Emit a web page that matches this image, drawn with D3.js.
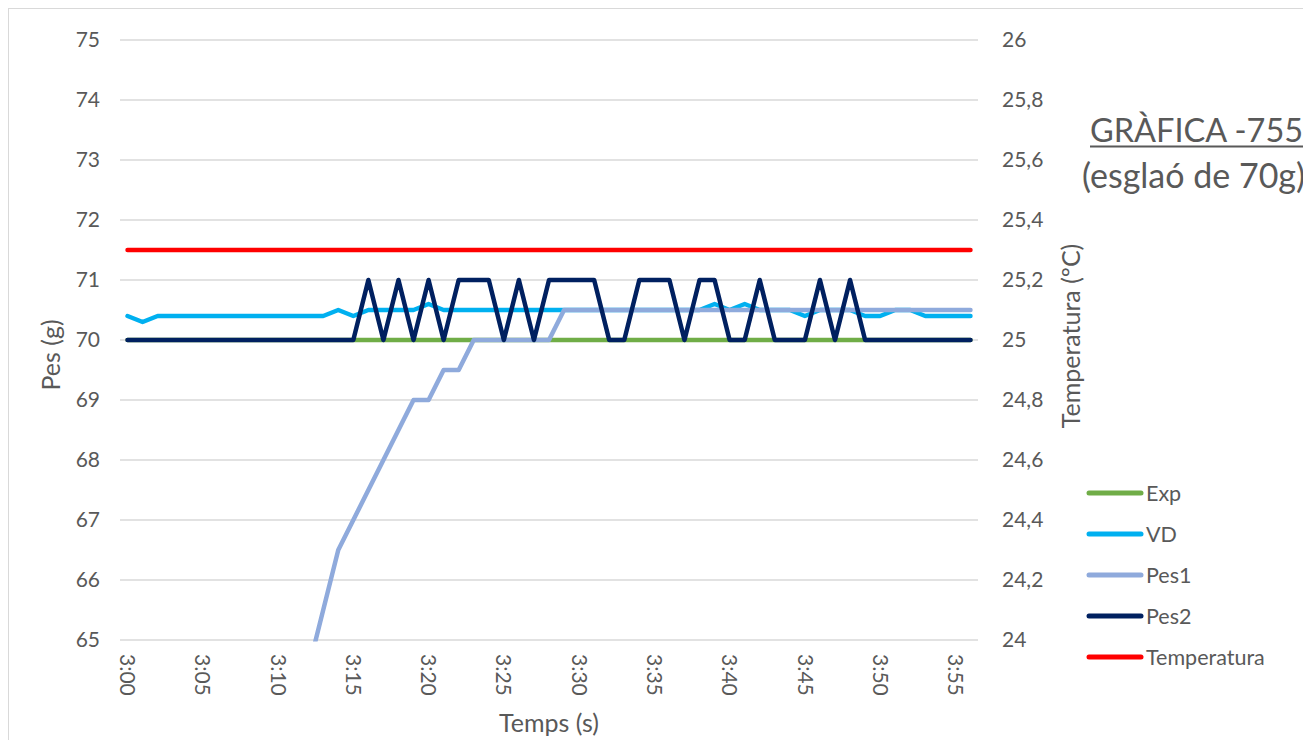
<!DOCTYPE html>
<html>
<head>
<meta charset="utf-8">
<script src="https://cdn.jsdelivr.net/npm/d3@7"></script>
<style>
  body { margin: 0; background: white; }
  text { font-family: Lato, "Open Sans", sans-serif; fill: #595959; }
</style>
</head>
<body>
<svg id="vis"></svg>
<script>
// data (one point per second, 3:00 .. 3:56)
const TEMPS = ['3:00','3:01','3:02','3:03','3:04','3:05','3:06','3:07','3:08','3:09',
  '3:10','3:11','3:12','3:13','3:14','3:15','3:16','3:17','3:18','3:19',
  '3:20','3:21','3:22','3:23','3:24','3:25','3:26','3:27','3:28','3:29',
  '3:30','3:31','3:32','3:33','3:34','3:35','3:36','3:37','3:38','3:39',
  '3:40','3:41','3:42','3:43','3:44','3:45','3:46','3:47','3:48','3:49',
  '3:50','3:51','3:52','3:53','3:54','3:55','3:56']
const TICK_LABELS = ['3:00','3:05','3:10','3:15','3:20','3:25','3:30','3:35','3:40','3:45','3:50','3:55']

const EXP = [70,70,70,70,70,70,70,70,70,70, 70,70,70,70,70,70,70,70,70,70,
  70,70,70,70,70,70,70,70,70,70, 70,70,70,70,70,70,70,70,70,70,
  70,70,70,70,70,70,70,70,70,70, 70,70,70,70,70,70,70]
const VD = [70.4,70.3,70.4,70.4,70.4,70.4,70.4,70.4,70.4,70.4,
  70.4,70.4,70.4,70.4,70.5,70.4,70.5,70.5,70.5,70.5,
  70.6,70.5,70.5,70.5,70.5,70.5,70.5,70.5,70.5,70.5,
  70.5,70.5,70.5,70.5,70.5,70.5,70.5,70.5,70.5,70.6,
  70.5,70.6,70.5,70.5,70.5,70.4,70.5,70.5,70.5,70.4,
  70.4,70.5,70.5,70.4,70.4,70.4,70.4]
// first values are below the 65 axis minimum and not visible
const PES1 = [null,null,null,null,null,null,null,null,null,null,
  null,null,64.5,65.5,66.5,67,67.5,68,68.5,69,
  69,69.5,69.5,70,70,70,70,70,70,70.5,
  70.5,70.5,70.5,70.5,70.5,70.5,70.5,70.5,70.5,70.5,
  70.5,70.5,70.5,70.5,70.5,70.5,70.5,70.5,70.5,70.5,
  70.5,70.5,70.5,70.5,70.5,70.5,70.5]
const PES2 = [70,70,70,70,70,70,70,70,70,70,
  70,70,70,70,70,70,71,70,71,70,
  71,70,71,71,71,70,71,70,71,71,
  71,71,70,70,71,71,71,70,71,71,
  70,70,71,70,70,70,71,70,71,70,
  70,70,70,70,70,70,70]
const TEMPERATURA = [25.3,25.3,25.3,25.3,25.3,25.3,25.3,25.3,25.3,25.3,
  25.3,25.3,25.3,25.3,25.3,25.3,25.3,25.3,25.3,25.3,
  25.3,25.3,25.3,25.3,25.3,25.3,25.3,25.3,25.3,25.3,
  25.3,25.3,25.3,25.3,25.3,25.3,25.3,25.3,25.3,25.3,
  25.3,25.3,25.3,25.3,25.3,25.3,25.3,25.3,25.3,25.3,
  25.3,25.3,25.3,25.3,25.3,25.3,25.3]

const LEFT_TICKS = [65,66,67,68,69,70,71,72,73,74,75]
const RIGHT_TICKS = [24,24.2,24.4,24.6,24.8,25,25.2,25.4,25.6,25.8,26]

// layout
const WIDTH = 1303
const HEIGHT = 740
const PLOT_LEFT = 120
const PLOT_RIGHT = 978
const PLOT_TOP = 40
const PLOT_BOTTOM = 640
const LABEL_SIZE = 21
const TITLE_SIZE = 25

var svg = d3.select('#vis')
    .attr('width', WIDTH)
    .attr('height', HEIGHT)

// chart border
svg.append('rect')
    .attr('x', 8.5)
    .attr('y', 8.5)
    .attr('width', WIDTH + 20)
    .attr('height', HEIGHT + 20)
    .attr('fill', 'white')
    .attr('stroke', '#d9d9d9')

var x = d3.scalePoint()
    .domain(TEMPS)
    .range([PLOT_LEFT, PLOT_RIGHT])
    .padding(0.5)

var yLeft = d3.scaleLinear()
    .domain([65, 75])
    .range([PLOT_BOTTOM, PLOT_TOP])

var yRight = d3.scaleLinear()
    .domain([24, 26])
    .range([PLOT_BOTTOM, PLOT_TOP])

// gridlines
svg.append('g')
    .selectAll('line')
    .data(LEFT_TICKS)
    .join('line')
        .attr('x1', PLOT_LEFT)
        .attr('x2', PLOT_RIGHT)
        .attr('y1', d => yLeft(d))
        .attr('y2', d => yLeft(d))
        .attr('stroke', '#d9d9d9')
        .attr('stroke-width', 1.5)

// left axis labels
svg.append('g')
    .selectAll('text')
    .data(LEFT_TICKS)
    .join('text')
        .attr('x', 100)
        .attr('y', d => yLeft(d))
        .attr('dy', '0.35em')
        .attr('font-size', LABEL_SIZE)
        .style('text-anchor', 'end')
        .text(d => d)

// right axis labels (comma decimals)
svg.append('g')
    .selectAll('text')
    .data(RIGHT_TICKS)
    .join('text')
        .attr('x', 1002)
        .attr('y', d => yRight(d))
        .attr('dy', '0.35em')
        .attr('font-size', LABEL_SIZE)
        .style('text-anchor', 'start')
        .text(d => String(+d.toFixed(1)).replace('.', ','))

// x axis labels, rotated
svg.append('g')
    .selectAll('text')
    .data(TICK_LABELS)
    .join('text')
        .attr('transform', d => `translate(${x(d)}, 654) rotate(90)`)
        .attr('dy', '0.35em')
        .attr('font-size', LABEL_SIZE)
        .style('text-anchor', 'start')
        .text(d => d)

// axis titles
svg.append('text')
    .attr('x', 549)
    .attr('y', 732)
    .attr('font-size', TITLE_SIZE)
    .style('text-anchor', 'middle')
    .text('Temps (s)')

svg.append('text')
    .attr('transform', 'translate(60, 355) rotate(-90)')
    .attr('font-size', TITLE_SIZE)
    .style('text-anchor', 'middle')
    .text('Pes (g)')

svg.append('text')
    .attr('transform', 'translate(1080, 336) rotate(-90)')
    .attr('font-size', TITLE_SIZE)
    .style('text-anchor', 'middle')
    .text('Temperatura (ºC)')

// clip the lines to the plot area
svg.append('clipPath')
    .attr('id', 'plot-clip')
    .append('rect')
        .attr('x', 0)
        .attr('y', 0)
        .attr('width', WIDTH)
        .attr('height', PLOT_BOTTOM + 1.5)

const SERIES = [
    { name: 'Exp', values: EXP, color: '#70ad47', axis: yLeft },
    { name: 'VD', values: VD, color: '#00b0f0', axis: yLeft },
    { name: 'Pes1', values: PES1, color: '#8faadc', axis: yLeft },
    { name: 'Pes2', values: PES2, color: '#002060', axis: yLeft },
    { name: 'Temperatura', values: TEMPERATURA, color: '#ff0000', axis: yRight }
]

var lines = svg.append('g')
    .attr('clip-path', 'url(#plot-clip)')

SERIES.forEach(function(s) {
    var line = d3.line()
        .defined(d => d != null)
        .x((d, i) => x(TEMPS[i]))
        .y(d => s.axis(d))
    lines.append('path')
        .datum(s.values)
        .attr('d', line)
        .attr('fill', 'none')
        .attr('stroke', s.color)
        .attr('stroke-width', 4.5)
        .attr('stroke-linejoin', 'round')
        .attr('stroke-linecap', 'round')
})

// legend
var legend = svg.append('g')
SERIES.forEach(function(s, i) {
    var ly = 493 + i * 41
    legend.append('line')
        .attr('x1', 1089)
        .attr('x2', 1141)
        .attr('y1', ly)
        .attr('y2', ly)
        .attr('stroke', s.color)
        .attr('stroke-width', 5)
        .attr('stroke-linecap', 'round')
    legend.append('text')
        .attr('x', 1146)
        .attr('y', ly)
        .attr('dy', '0.35em')
        .attr('font-size', LABEL_SIZE + 0.5)
        .text(s.name)
})

// title (second line runs past the right edge, as in the original)
svg.append('text')
    .attr('x', 1090)
    .attr('y', 142)
    .attr('font-size', 32.5)
    .text('GRÀFICA -755')

svg.append('line')
    .attr('x1', 1090)
    .attr('x2', WIDTH)
    .attr('y1', 146.5)
    .attr('y2', 146.5)
    .attr('stroke', '#595959')
    .attr('stroke-width', 2)

svg.append('text')
    .attr('x', 1082)
    .attr('y', 188)
    .attr('font-size', 34)
    .text('(esglaó de 70g)')
</script>
</body>
</html>
